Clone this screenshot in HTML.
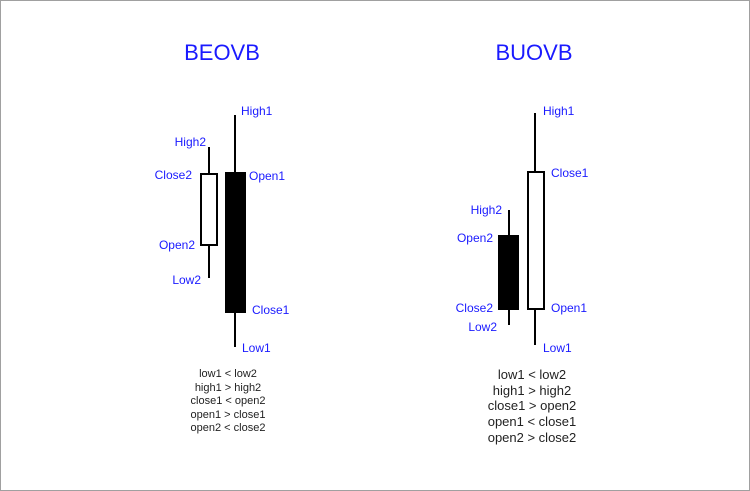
<!DOCTYPE html>
<html><head><meta charset="utf-8"><style>
html,body{margin:0;padding:0;background:#fff}
svg{display:block}
text{font-family:"Liberation Sans",sans-serif}
</style></head><body>
<svg width="750" height="491" viewBox="0 0 750 491">
<rect x="0.5" y="0.5" width="749" height="490" fill="#fff" stroke="#a0a0a0"/>
<text x="222" y="60" font-size="22" fill="#1a1aff" text-anchor="middle">BEOVB</text>
<text x="534" y="60" font-size="22" fill="#1a1aff" text-anchor="middle">BUOVB</text>
<g stroke="#000" stroke-width="2">
<line x1="235" y1="115" x2="235" y2="347"/>
<rect x="226" y="173" width="19" height="139" fill="#000"/>
<line x1="209" y1="147" x2="209" y2="278"/>
<rect x="201" y="174" width="16" height="71" fill="#fff"/>
<line x1="535" y1="113" x2="535" y2="345"/>
<rect x="528" y="172" width="16" height="137" fill="#fff"/>
<line x1="509" y1="210" x2="509" y2="325"/>
<rect x="499" y="236" width="19" height="73" fill="#000"/>
</g>
<g font-size="12" fill="#1a1aff">
<text x="241" y="115">High1</text>
<text x="206" y="146" text-anchor="end">High2</text>
<text x="192" y="179" text-anchor="end">Close2</text>
<text x="249" y="180">Open1</text>
<text x="195" y="249" text-anchor="end">Open2</text>
<text x="201" y="284" text-anchor="end">Low2</text>
<text x="252" y="314">Close1</text>
<text x="242" y="352">Low1</text>
<text x="543" y="115">High1</text>
<text x="551" y="177">Close1</text>
<text x="502" y="214" text-anchor="end">High2</text>
<text x="493" y="242" text-anchor="end">Open2</text>
<text x="493" y="312" text-anchor="end">Close2</text>
<text x="497" y="331" text-anchor="end">Low2</text>
<text x="551" y="312">Open1</text>
<text x="543" y="352">Low1</text>
</g>
<g font-size="11" fill="#222" text-anchor="middle">
<text x="228" y="377">low1 &lt; low2</text>
<text x="228" y="391">high1 &gt; high2</text>
<text x="228" y="404">close1 &lt; open2</text>
<text x="228" y="418">open1 &gt; close1</text>
<text x="228" y="431">open2 &lt; close2</text>
</g>
<g font-size="13" fill="#222" text-anchor="middle">
<text x="532" y="379">low1 &lt; low2</text>
<text x="532" y="395">high1 &gt; high2</text>
<text x="532" y="410">close1 &gt; open2</text>
<text x="532" y="426">open1 &lt; close1</text>
<text x="532" y="442">open2 &gt; close2</text>
</g>
</svg>
</body></html>
